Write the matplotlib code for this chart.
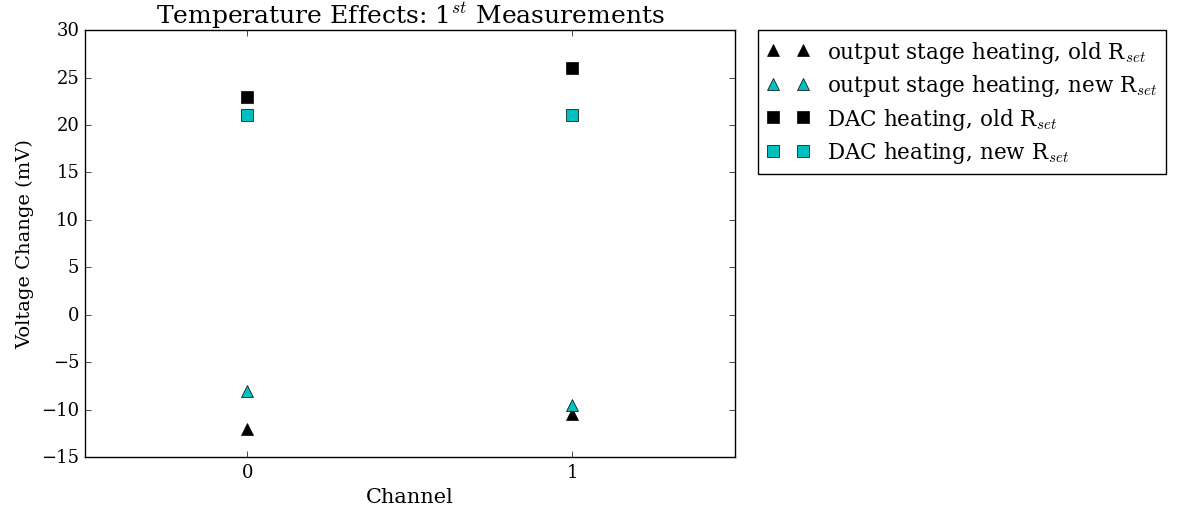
import matplotlib
matplotlib.use('Agg')
import matplotlib.pyplot as plt

channels = [0, 1]
out_old = [-12, -10.5]
out_new = [-8, -9.5]
dac_old = [23, 26]
dac_new = [21, 21]

plt.style.use('classic')
plt.rcParams['font.family'] = 'DejaVu Serif'
plt.rcParams['mathtext.fontset'] = 'cm'

fig = plt.figure(figsize=(11.77, 5.1), dpi=100)
ax = fig.add_axes([0.072, 0.102, 0.5525, 0.837])

ax.plot(channels, out_old, '^', color='k', ms=9, label=r'output stage heating, old R$_{set}$')
ax.plot(channels, out_new, '^', color='c', ms=9, label=r'output stage heating, new R$_{set}$')
ax.plot(channels, dac_old, 's', color='k', ms=9, label=r'DAC heating, old R$_{set}$')
ax.plot(channels, dac_new, 's', color='c', ms=9, label=r'DAC heating, new R$_{set}$')

ax.set_xlim(-0.5, 1.5)
ax.set_ylim(-15, 30)
ax.set_xticks(channels)
ax.set_yticks(range(-15, 31, 5))
ax.tick_params(labelsize=13)
ax.set_xlabel('Channel', fontsize=15)
ax.set_ylabel('Voltage Change (mV)', fontsize=14)
ax.set_title(r'Temperature Effects: 1$^{st}$ Measurements', fontsize=18)
ax.legend(loc='upper left', bbox_to_anchor=(1.035, 1.0), borderaxespad=0,
          numpoints=2, fontsize=15.5, labelspacing=0.35, borderpad=0.4)

fig.savefig('out.png', dpi=100)
